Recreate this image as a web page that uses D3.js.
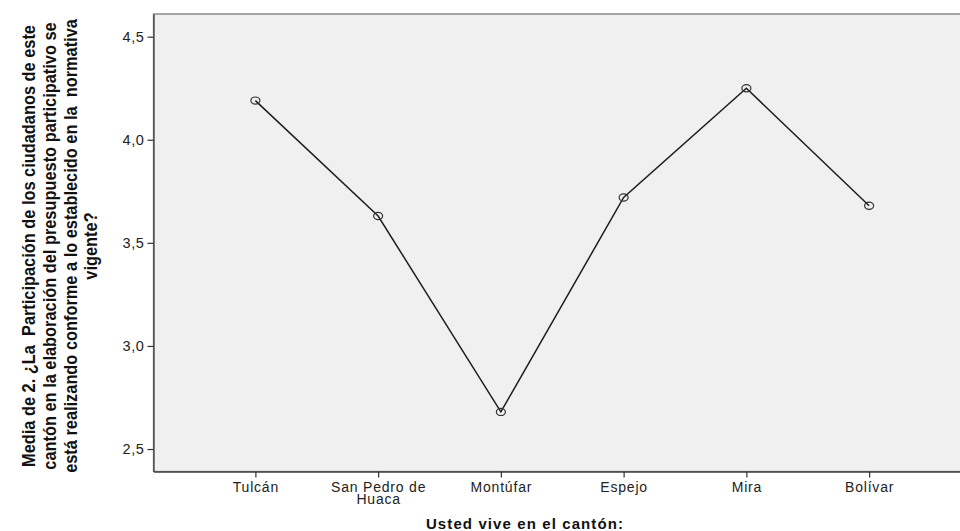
<!DOCTYPE html>
<html>
<head>
<meta charset="utf-8">
<script src="https://cdn.jsdelivr.net/npm/d3@7/dist/d3.min.js"></script>
<style>
  html, body { margin: 0; padding: 0; background: #fff; }
  svg { display: block; }
</style>
</head>
<body>
<svg id="chart" width="960" height="531"></svg>
<script>
// ---- data ----
const categories = ["Tulcán", "San Pedro de\nHuaca", "Montúfar", "Espejo", "Mira", "Bolívar"];
const means = [4.19, 3.63, 2.68, 3.72, 4.25, 3.68];
const yTicks = [2.5, 3.0, 3.5, 4.0, 4.5];
const yTitleLines = [
  "Media de 2. ¿La  Participación de los ciudadanos de este",
  "cantón en la elaboración del presupuesto participativo se",
  "está realizando conforme a lo establecido en la  normativa",
  "vigente?"
];
const xTitle = "Usted vive en el cantón:";

// ---- layout ----
const svg = d3.select("#chart");
const plot = { left: 153.5, top: 14, right: 971, bottom: 471.5 };

const x = d3.scalePoint()
  .domain(categories)
  .range([plot.left, plot.right])
  .padding(0.83);

const y = d3.scaleLinear()
  .domain([2.391, 4.61])
  .range([plot.bottom, plot.top]);

// plot background
svg.append("rect")
  .attr("x", plot.left).attr("y", plot.top)
  .attr("width", plot.right - plot.left).attr("height", plot.bottom - plot.top)
  .attr("fill", "#f0f0f0")
  .attr("stroke", "#7a7a7a")
  .attr("stroke-width", 1.3);

// y axis
const yAxis = d3.axisLeft(y)
  .tickValues(yTicks)
  .tickSizeInner(6)
  .tickSizeOuter(0)
  .tickPadding(3)
  .tickFormat(d => d3.format(".1f")(d).replace(".", ","));
const gy = svg.append("g")
  .attr("transform", `translate(${plot.left},0)`)
  .call(yAxis);
gy.select(".domain").attr("stroke", "#444").attr("stroke-width", 1.3);
gy.selectAll(".tick line").attr("stroke", "#333").attr("stroke-width", 1.2);
gy.selectAll(".tick text")
  .attr("fill", "#222")
  .style("font-family", "'Liberation Sans', Arial, sans-serif")
  .style("font-size", "14.5px")
  .style("letter-spacing", "0.6px");

// x axis
const xAxis = d3.axisBottom(x).tickSizeInner(6).tickSizeOuter(0).tickPadding(4).tickFormat("");
const gx = svg.append("g")
  .attr("transform", `translate(0,${plot.bottom})`)
  .call(xAxis);
gx.select(".domain").attr("stroke", "#444").attr("stroke-width", 1.3);
gx.selectAll(".tick line").attr("stroke", "#333").attr("stroke-width", 1.2);
gx.selectAll(".tick").each(function(d) {
  const lines = d.split("\n");
  const t = d3.select(this).append("text")
    .attr("fill", "#222")
    .attr("text-anchor", "middle")
    .style("font-family", "'Liberation Sans', Arial, sans-serif")
    .style("font-size", "14px")
    .style("letter-spacing", "0.8px");
  lines.forEach((ln, i) => {
    t.append("tspan").attr("x", 0).attr("y", 20.5 + i * 12).text(ln);
  });
});

// line
const line = d3.line()
  .x((d, i) => x(categories[i]))
  .y(d => y(d));
svg.append("path")
  .datum(means)
  .attr("d", line)
  .attr("fill", "none")
  .attr("stroke", "#1e1e1e")
  .attr("stroke-width", 1.5);

// markers
svg.selectAll("ellipse.pt")
  .data(means)
  .enter().append("ellipse")
  .attr("class", "pt")
  .attr("cx", (d, i) => x(categories[i]))
  .attr("cy", d => y(d))
  .attr("rx", 4.5)
  .attr("ry", 3.6)
  .attr("fill", "none")
  .attr("stroke", "#333")
  .attr("stroke-width", 1.2);

// x title
svg.append("text")
  .attr("x", 525)
  .attr("y", 529)
  .attr("text-anchor", "middle")
  .attr("fill", "#111")
  .style("font-family", "'Liberation Sans', Arial, sans-serif")
  .style("font-weight", "bold")
  .style("font-size", "15px")
  .style("letter-spacing", "1.1px")
  .text(xTitle);

// y title (rotated, 4 lines, condensed bold)
const yTitleCenter = 246;
const baselines = [35, 55.8, 76.5, 97.3];
const yt = svg.append("g");
const ytTexts = yTitleLines.map((ln, i) =>
  yt.append("text")
    .attr("text-anchor", "middle")
    .attr("fill", "#111")
    .style("font-family", "'Liberation Sans', Arial, sans-serif")
    .style("font-weight", "bold")
    .style("font-size", "17.5px")
    .style("white-space", "pre")
    .text(ln)
);
const len = ytTexts[0].node().getComputedTextLength();
const sx = 442 / len;
ytTexts.forEach((t, i) => {
  t.attr("transform", `translate(${baselines[i]},${yTitleCenter}) rotate(-90) scale(${sx},1)`);
});
</script>
</body>
</html>
